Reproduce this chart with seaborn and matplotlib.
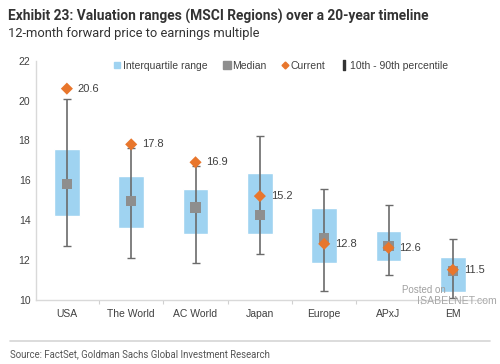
import numpy as np
import pandas as pd
import matplotlib
matplotlib.use('Agg')
import matplotlib.pyplot as plt
import seaborn as sns
from matplotlib.lines import Line2D

# Values
regions = ['USA', 'The World', 'AC World', 'Japan', 'Europe', 'APxJ', 'EM']
p10 = [12.7, 12.07, 11.82, 12.3, 10.44, 11.23, 10.1]
q25 = [14.2, 13.6, 13.3, 13.28, 11.85, 11.93, 10.39]
median = [15.8, 14.95, 14.63, 14.25, 13.1, 12.7, 11.45]
q75 = [17.55, 16.2, 15.57, 16.34, 14.58, 13.44, 12.15]
p90 = [20.06, 17.6, 16.7, 18.2, 15.54, 14.73, 13.02]
current = [20.6, 17.8, 16.9, 15.2, 12.8, 12.6, 11.5]
current_labels = ['20.6', '17.8', '16.9', '15.2', '12.8', '12.6', '11.5']

df = pd.DataFrame({'region': regions, 'p10': p10, 'q25': q25, 'median': median,
                   'q75': q75, 'p90': p90, 'current': current})
df['iqr'] = df['q75'] - df['q25']

blue = '#9fd3f1'
grey_sq = '#8e8e8e'
orange = '#e8762c'
whisk = '#6b6b6b'
txt = '#404040'

sns.set_style('white')
plt.rcParams['font.family'] = ['Liberation Sans', 'DejaVu Sans']

fig = plt.figure(figsize=(5.0, 3.64), dpi=100)
ax = fig.add_axes([0.072, 0.177, 0.898, 0.656])

# interquartile boxes
sns.barplot(data=df, x='region', y='iqr', bottom=df['q25'], color=blue,
            width=0.4, saturation=1, ax=ax, zorder=1)

pos = np.arange(len(regions))
# 10th - 90th percentile whiskers
ax.errorbar(pos, df['median'], yerr=[df['median'] - df['p10'], df['p90'] - df['median']],
            fmt='none', ecolor=whisk, elinewidth=1.2, capsize=3, capthick=1.0, zorder=2)

sns.scatterplot(x=pos, y=df['median'], marker='s', s=55, color=grey_sq,
                edgecolor='none', ax=ax, zorder=3)
sns.scatterplot(x=pos, y=df['current'], marker='D', s=38, color=orange,
                edgecolor='none', ax=ax, zorder=4)

for i, (v, lab) in enumerate(zip(current, current_labels)):
    ax.text(i + 0.17, v, lab, fontsize=8, color=txt, va='center', ha='left')

ax.set_xlim(-0.48, 6.5)
ax.set_ylim(10, 22)
ax.set_yticks(range(10, 23, 2))
ax.set_xlabel('')
ax.set_ylabel('')
ax.set_xticks(pos)
ax.set_xticklabels(regions)
ax.set_xticks(np.arange(0.5, 6.0, 1.0), minor=True)
ax.tick_params(axis='x', which='major', length=0, labelsize=7.5, labelcolor=txt, pad=7)
ax.tick_params(axis='x', which='minor', length=3, color='#d0d0d0', width=0.8, bottom=True)
ax.tick_params(axis='y', length=0, labelsize=7.5, labelcolor=txt, pad=4)
for s in ['top', 'right']:
    ax.spines[s].set_visible(False)
for s in ['left', 'bottom']:
    ax.spines[s].set_color('#d9d9d9')
    ax.spines[s].set_linewidth(1.0)

handles = [
    Line2D([], [], marker='s', color=blue, linestyle='none', markersize=4),
    Line2D([], [], marker='s', color=grey_sq, linestyle='none', markersize=6),
    Line2D([], [], marker='D', color=orange, linestyle='none', markersize=3.5),
    Line2D([], [], marker=r'$\mathbf{I}$', color='#333333', linestyle='none', markersize=7),
]
ax.legend(handles, ['Interquartile range', 'Median', 'Current', '10th - 90th percentile'],
          loc='upper left', bbox_to_anchor=(0.15, 1.04), ncol=4, frameon=False,
          fontsize=7.5, handletextpad=0.05, columnspacing=1.4, handlelength=0.9,
          labelcolor=txt)

# titles, source and watermark
fig.text(0.016, 0.975, 'Exhibit 23: Valuation ranges (MSCI Regions) over a 20-year timeline',
         fontsize=9.9, fontweight='bold', color='#333333', va='top', family='Roboto')
fig.text(0.016, 0.925, '12-month forward price to earnings multiple', fontsize=9.3,
         color='#333333', va='top', family='Roboto')
fig.add_artist(Line2D([0.02, 0.98], [0.064, 0.064], color='#d6d6d6', lw=1.2))
fig.text(0.02, 0.027, 'Source: FactSet, Goldman Sachs Global Investment Research',
         fontsize=6.9, color='#555555', va='center', family='Roboto')
fig.text(0.805, 0.203, 'Posted on', fontsize=7.0, color='#a0a0a0', ha='left', va='center')
fig.text(0.835, 0.172, 'ISABELNET.com', fontsize=7.6, color='#a8a8a8', ha='left', va='center')

fig.savefig('out.png', dpi=100)
